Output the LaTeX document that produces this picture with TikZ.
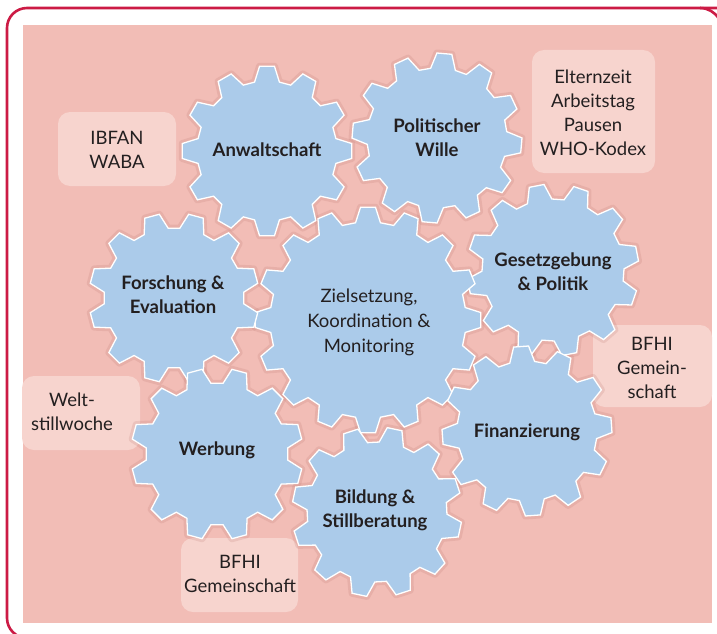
\documentclass[tikz,border=0pt]{standalone}
\usepackage{fontspec}
\setmainfont{Lato}

\definecolor{framered}{HTML}{CC1B45}
\definecolor{bgpink}{HTML}{F2BDB6}
\definecolor{boxpink}{HTML}{F7D4CE}
\definecolor{gearblue}{HTML}{ABCBEA}
\definecolor{halo}{HTML}{B8736C}
\definecolor{ink}{HTML}{231F20}

\tikzset{
  geartext/.style={font=\fontsize{18.5}{24}\selectfont\bfseries, text=ink, align=center},
  boxtext/.style={font=\fontsize{18.5}{24}\selectfont, text=ink, align=center},
  boxfill/.style={fill=boxpink, rounded corners=12pt},
  gearfill/.style={fill=gearblue, draw=white, line width=1.3pt, line join=miter},
  gearhalo/.style={draw=halo, opacity=0.18, line width=7pt, line join=round},
}

% gear outline: style, cx, cy, teeth, outer r, inner r, phase
\newcommand{\gearoutline}[7]{%
  \pgfmathsetmacro{\tipa}{deg(7.5/#5)}%
  \pgfmathsetmacro{\roota}{deg(12.5/#6)}%
  \pgfmathsetmacro{\pitcha}{360/#4}%
  \path[#1, shift={(#2,#3)}] (#7-\roota:#6)
    \foreach \k in {1,...,#4}{
      -- ({#7+(\k-1)*\pitcha-\tipa}:#5) -- ({#7+(\k-1)*\pitcha+\tipa}:#5)
      -- ({#7+(\k-1)*\pitcha+\roota}:#6) -- ({#7+\k*\pitcha-\roota}:#6)
    } -- cycle;
}

\begin{document}
\begin{tikzpicture}[x=1pt, y=-1pt]
    \useasboundingbox (0,0) rectangle (717,634);
    \clip (0,0) rectangle (717,634);

    % Rahmen und Hintergrund
    \fill[white] (0,0) rectangle (717,634);
    \draw[framered, line width=2.6pt] (740,8) -- (27,8) arc[start angle=270, end angle=180, radius=20]
      -- (7,618) arc[start angle=180, end angle=90, radius=20] -- (740,638);
    \draw[framered, line width=2.6pt] (700,8) arc[start angle=270, end angle=330, radius=22];
    \fill[bgpink] (23,25) rectangle (712,623);

    % Kaesten
    \fill[boxfill] (58,112) rectangle (176,186);
    \fill[boxfill] (532,50) rectangle (655,173);
    \fill[boxfill] (593,325) rectangle (712,407);
    \fill[boxfill] (22,376) rectangle (140,450);
    \fill[boxfill] (181,538) rectangle (298,612);

    \node[boxtext] (ibfan) at (117,150) {IBFAN\\WABA};
    \node[boxtext] (eltern) at (593,113) {Elternzeit\\Arbeitstag\\Pausen\\WHO-Kodex};
    \node[boxtext] (bfhiright) at (652,368) {BFHI\\Gemein-\\schaft};
    \node[boxtext] (welt) at (72,412) {Welt-\\stillwoche};
    \node[boxtext] (bfhibottom) at (240,574) {BFHI\\Gemeinschaft};

    % Zahnraeder: Schatten, dann Flaeche
    \foreach \cx/\cy/\n/\ro/\ri/\ph in {267/151/12/85/70/0, 437/138/12/85/70/5,
        553/270/12/86/71/19, 368/320/16/113/98/0, 174/298/12/85/70/15,
        217/454/12/86/71/15, 377/512/12/85/70/12, 527/431/12/85/70/26}
      \gearoutline{gearhalo}{\cx}{\cy}{\n}{\ro}{\ri}{\ph};
    \foreach \cx/\cy/\n/\ro/\ri/\ph in {267/151/12/85/70/0, 437/138/12/85/70/5,
        553/270/12/86/71/19, 368/320/16/113/98/0, 174/298/12/85/70/15,
        217/454/12/86/71/15, 377/512/12/85/70/12, 527/431/12/85/70/26}
      \gearoutline{gearfill}{\cx}{\cy}{\n}{\ro}{\ri}{\ph};

    % Beschriftungen
    \node[geartext] (anwalt) at (267,150) {Anwaltschaft};
    \node[geartext] (wille) at (437,138) {Politischer\\Wille};
    \node[geartext] (gesetz) at (553,272) {Gesetzgebung\\\& Politik};
    \node[geartext, font=\fontsize{18.5}{25}\selectfont] (ziel) at (369,322) {Zielsetzung,\\Koordination \&\\Monitoring};
    \node[geartext] (forsch) at (173,295) {Forschung \&\\Evaluation};
    \node[geartext] (werbung) at (217,450) {Werbung};
    \node[geartext] (bildung) at (375,510) {Bildung \&\\Stillberatung};
    \node[geartext] (finanz) at (527,432) {Finanzierung};

\end{tikzpicture}
\end{document}
